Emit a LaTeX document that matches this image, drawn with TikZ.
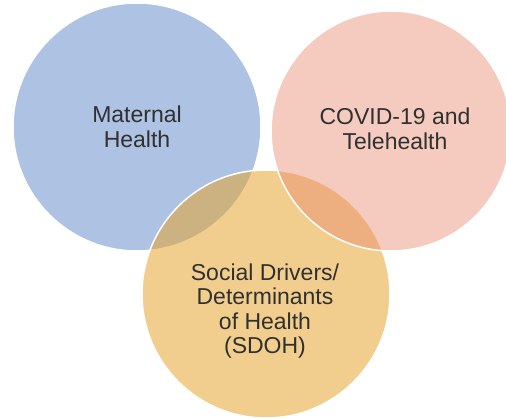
\documentclass[tikz,border=0pt]{standalone}
\usepackage{fontspec}
\setmainfont{Liberation Sans}
\definecolor{materblue}{RGB}{120, 153, 208}
\definecolor{covidpink}{RGB}{231, 139, 111}
\definecolor{sdohgold}{RGB}{231, 164, 46}
\definecolor{labelgray}{RGB}{48, 48, 48}
\usetikzlibrary{positioning}

\begin{document}
\begin{tikzpicture}[x=1pt, y=-1pt,
    topic/.style={circle, inner sep=0pt, draw=white, line width=1.5pt},
    topiclabel/.style={align=center, text=labelgray, font=\fontsize{23}{24.5}\selectfont}]
  \useasboundingbox (0,0) rectangle (506,418);

  % Three topic circles (blue, then gold, pink on top)
  \node[topic, fill=materblue, fill opacity=0.6, minimum size=248pt] (maternal) at (137,127) {};
  \node[topic, fill=sdohgold, fill opacity=0.54, minimum size=248pt] (sdoh) at (266,294) {};
  \node[topic, fill=covidpink, fill opacity=0.45, minimum size=240pt] (covid) at (391,131) {};

  % Labels
  \node[topiclabel] (maternaltext) at (137,127) {Maternal\\Health};
  \node[topiclabel] (covidtext) at (395,129) {COVID-19 and\\Telehealth};
  \node[topiclabel] (sdohtext) at (265,311) {Social Drivers/\\Determinants\\of Health\\(SDOH)};
\end{tikzpicture}
\end{document}
